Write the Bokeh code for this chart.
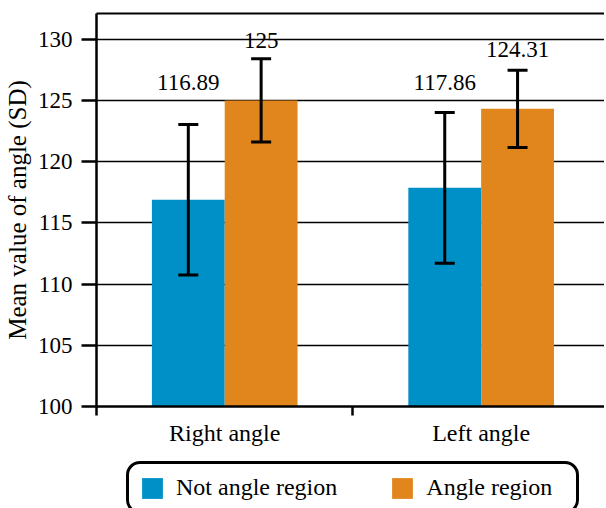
from bokeh.plotting import figure
from bokeh.models import (ColumnDataSource, Whisker, TeeHead, FixedTicker, LinearAxis,
                          Legend, LegendItem, Range1d)
from bokeh.layouts import column
from bokeh.embed import file_html
from bokeh.resources import INLINE
from bokeh.core.properties import value

categories = ["Right angle", "Left angle"]
series = ["Not angle region", "Angle region"]
means_not = [116.89, 117.86]
means_angle = [125.0, 124.31]
sd_not = [6.15, 6.15]
sd_angle = [3.4, 3.15]
value_labels_not = ["116.89", "117.86"]
value_labels_angle = ["125", "124.31"]
label_pos_not = [126.5, 126.5]
label_pos_angle = [129.9, 129.15]
y_ticks = [100, 105, 110, 115, 120, 125, 130]

colors = ["#0090C8", "#E1861C"]
FONT = "Liberation Serif"
BAR_W = 0.284
LEFT = 95

p = figure(width=604, height=458, output_backend="svg", toolbar_location=None,
           x_range=Range1d(0, 1.981), y_range=Range1d(100, 132.1),
           min_border_left=LEFT, min_border_right=0, min_border_top=13, min_border_bottom=52)
p.outline_line_color = None
p.background_fill_color = "white"
p.border_fill_color = "white"

centers = [0.5 + i for i in range(len(categories))]
for k, (means, sds, labels, lpos) in enumerate([
        (means_not, sd_not, value_labels_not, label_pos_not),
        (means_angle, sd_angle, value_labels_angle, label_pos_angle)]):
    xs = [c + (k - 0.5) * BAR_W for c in centers]
    src = ColumnDataSource(dict(
        x=xs, top=means,
        upper=[m + s for m, s in zip(means, sds)],
        lower=[m - s for m, s in zip(means, sds)],
        lab=labels, ly=lpos))
    p.vbar(x="x", top="top", bottom=100, width=BAR_W, source=src,
           fill_color=colors[k], line_color=None)
    w = Whisker(base="x", upper="upper", lower="lower", source=src, level="overlay",
                line_color="black", line_width=3,
                upper_head=TeeHead(size=20, line_width=3, line_color="black"),
                lower_head=TeeHead(size=20, line_width=3, line_color="black"))
    p.add_layout(w)
    p.text(x="x", y="ly", text="lab", source=src, text_align="center",
           text_baseline="middle", text_font=value(FONT),
           text_font_size="23px", text_color="black")

# grid
p.xgrid.visible = False
p.ygrid.ticker = FixedTicker(ticks=y_ticks)
p.ygrid.grid_line_color = "black"
p.ygrid.grid_line_width = 1.6

# y axis
ya = p.yaxis[0]
ya.ticker = FixedTicker(ticks=y_ticks)
ya.axis_label = "Mean value of angle (SD)"
ya.axis_label_text_font = FONT
ya.axis_label_text_font_style = "normal"
ya.axis_label_text_font_size = "25px"
ya.axis_label_text_color = "black"
ya.axis_label_standoff = 4
ya.major_label_text_font = FONT
ya.major_label_text_font_size = "23px"
ya.major_label_text_color = "black"
ya.major_label_standoff = 9
ya.major_tick_out = 15
ya.major_tick_in = 0
ya.minor_tick_line_color = None
ya.axis_line_width = 2.5
ya.major_tick_line_width = 2.5

# x axis
xa = p.xaxis[0]
xa.ticker = FixedTicker(ticks=centers, minor_ticks=[0, 1, 2])
xa.major_label_overrides = {c: n for c, n in zip(centers, categories)}
xa.major_label_text_font = FONT
xa.major_label_text_font_size = "24px"
xa.major_label_text_color = "black"
xa.major_label_standoff = 4
xa.major_tick_line_color = None
xa.major_tick_out = 0
xa.minor_tick_out = 9
xa.minor_tick_in = 0
xa.minor_tick_line_width = 2.5
xa.axis_line_width = 2.5

# top border
top = LinearAxis(ticker=FixedTicker(ticks=[]), major_label_text_font_size="0px",
                 major_tick_line_color=None, minor_tick_line_color=None,
                 axis_line_width=2)
p.add_layout(top, "above")

# legend strip
lg = figure(width=604, height=50, output_backend="svg", toolbar_location=None,
            x_range=Range1d(0, 1), y_range=Range1d(0, 1),
            x_axis_location=None, y_axis_location=None,
            min_border_left=LEFT, min_border_right=0, min_border_top=0, min_border_bottom=0)
lg.outline_line_color = None
lg.grid.visible = False
dummy = []
for k in range(len(series)):
    dummy.append(lg.vbar(x=[5], top=[5], bottom=[4], width=0.1,
                         fill_color=colors[k], line_color=None))
legend = Legend(items=[LegendItem(label=s, renderers=[r]) for s, r in zip(series, dummy)],
                orientation="horizontal", location=(127 - LEFT - 2, -6),
                label_text_font=FONT, label_text_font_size="24px", label_text_color="black",
                glyph_width=26, glyph_height=26, label_standoff=11, spacing=52,
                label_width=140,
                padding=10, margin=0, border_line_color="black", border_line_width=3,
                border_line_alpha=1.0, border_radius=14)
lg.add_layout(legend, "center")

layout = column(p, lg, spacing=0)
open("out.html", "w").write(file_html(layout, INLINE))
